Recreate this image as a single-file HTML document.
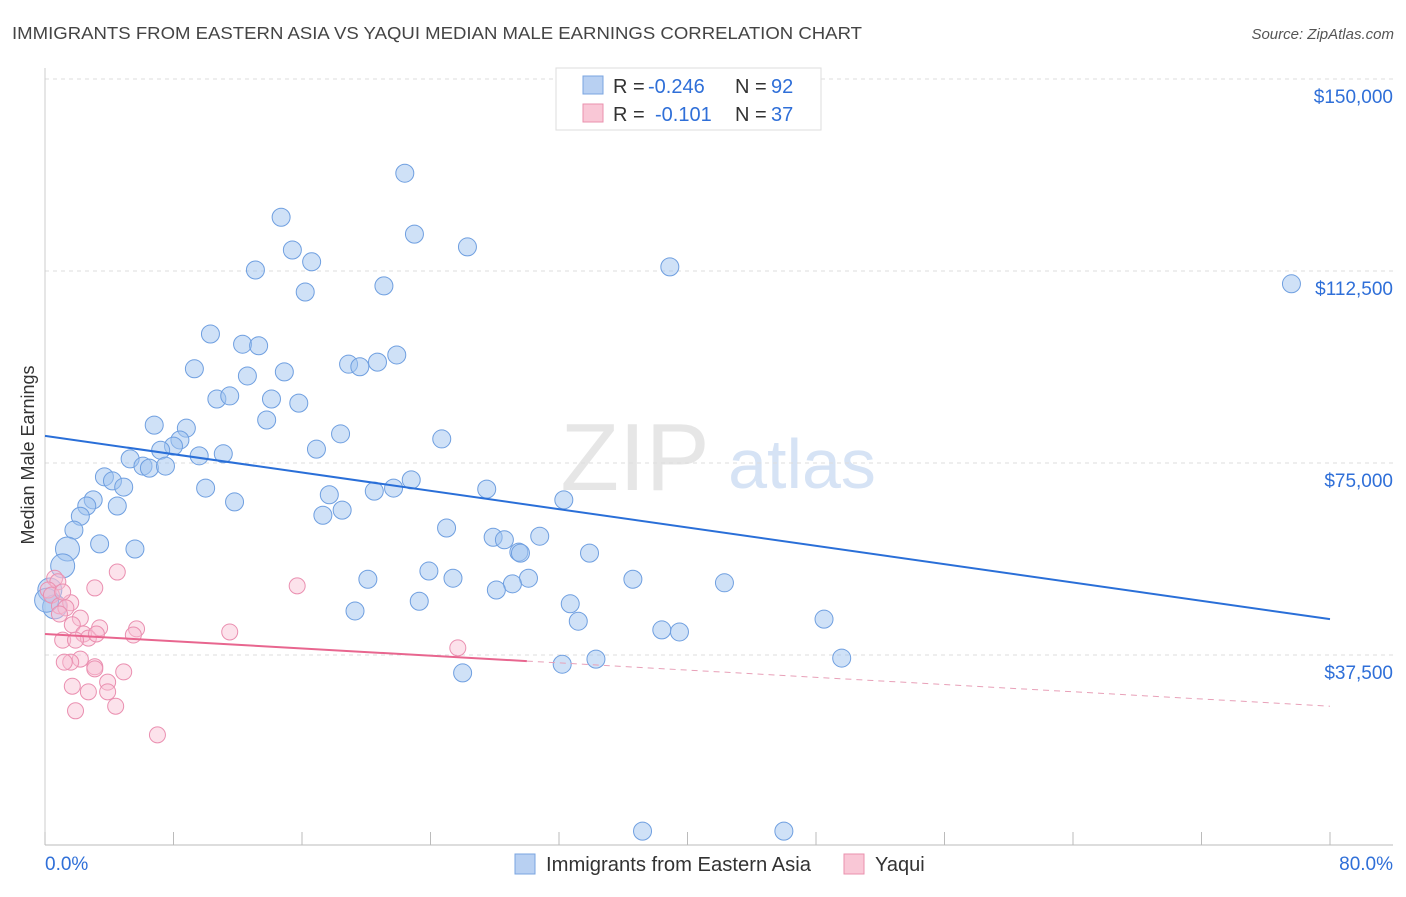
<!DOCTYPE html>
<html><head><meta charset="utf-8"><style>
body{margin:0;background:#fff;font-family:"Liberation Sans",sans-serif;}
svg text{font-family:"Liberation Sans",sans-serif;}
</style></head><body>
<svg id="c" width="1406" height="892" xmlns="http://www.w3.org/2000/svg">
<text x="12" y="39" font-size="17.5" fill="#444" textLength="850" lengthAdjust="spacingAndGlyphs">IMMIGRANTS FROM EASTERN ASIA VS YAQUI MEDIAN MALE EARNINGS CORRELATION CHART</text>
<text x="1394" y="39" font-size="15" fill="#555" font-style="italic" text-anchor="end">Source: ZipAtlas.com</text>
<text x="0" y="0" transform="translate(34,455) rotate(-90)" font-size="18" fill="#333" text-anchor="middle">Median Male Earnings</text>
<g><text x="635" y="490" font-size="96" fill="#e6e6e6" font-family="Liberation Serif,serif" text-anchor="middle">ZIP</text><text x="802" y="488" font-size="70" fill="#d6e3f5" text-anchor="middle">atlas</text></g>
<g id="grid"></g><g id="axes"></g><g id="marks"></g>
<g>
<rect x="556" y="68" width="265" height="62" fill="#fff" stroke="#ddd"/>
<rect x="583" y="76" width="20" height="18" fill="#b8d0f2" stroke="#7aa4e0"/>
<rect x="583" y="104" width="20" height="18" fill="#f9c7d6" stroke="#ea90ae"/>
<g font-size="20"><text x="613" y="93" fill="#333">R =</text><text x="648" y="93" fill="#2f6fd8">-0.246</text><text x="735" y="93" fill="#333">N =</text><text x="771" y="93" fill="#2f6fd8">92</text></g>
<g font-size="20"><text x="613" y="121" fill="#333">R =</text><text x="655" y="121" fill="#2f6fd8">-0.101</text><text x="735" y="121" fill="#333">N =</text><text x="771" y="121" fill="#2f6fd8">37</text></g>
</g>
<g>
<rect x="515" y="854" width="20" height="20" fill="#b8d0f2" stroke="#7aa4e0"/>
<text x="546" y="871" font-size="20" fill="#333" textLength="265" lengthAdjust="spacingAndGlyphs">Immigrants from Eastern Asia</text>
<rect x="844" y="854" width="20" height="20" fill="#f9c7d6" stroke="#ea90ae"/>
<text x="875" y="871" font-size="20" fill="#333">Yaqui</text>
</g>
</svg>
<script>
const yTicks=[37500,75000,112500,150000];
const yTickLabels=["$37,500","$75,000","$112,500","$150,000"];
const xTickVals=[0,8,16,24,32,40,48,56,64,72,80];
const blueX=[22.4,14.7,23.0,15.4,26.3,16.6,13.1,38.9,77.6,21.1,16.2,10.3,12.3,13.3,21.9,18.9,20.7,19.6,9.3,14.9,12.6,10.7,11.5,14.1,15.8,13.8,6.8,8.8,18.4,24.7,8.4,8.0,7.2,16.9,9.6,11.1,5.3,6.1,6.5,7.5,3.7,4.2,4.9,22.8,10.0,21.7,20.5,27.5,17.7,32.3,11.8,3.0,2.6,4.5,18.5,17.3,2.2,25.0,1.8,27.9,28.6,30.8,3.4,5.6,1.4,29.5,29.6,33.9,1.1,23.9,20.1,25.4,30.1,36.6,42.3,29.1,28.1,23.3,19.3,32.7,33.2,48.5,38.4,39.5,34.3,49.6,32.2,26.0,37.2,46.0,0.3,0.6,0.1];
const blueY=[131.6,123.0,119.7,116.6,117.2,114.3,112.7,113.3,110.0,109.6,108.4,100.2,98.2,97.9,96.1,94.3,94.7,93.8,93.4,92.8,92.0,87.5,88.1,87.5,86.7,83.4,82.4,81.8,80.7,79.7,79.5,78.3,77.5,77.7,76.4,76.8,75.8,74.4,74.0,74.4,72.3,71.5,70.3,71.7,70.1,70.1,69.5,69.9,68.8,67.8,67.4,67.8,66.6,66.6,65.8,64.8,64.6,62.3,61.9,60.5,60.0,60.7,59.2,58.2,58.2,57.6,57.4,57.4,54.9,53.9,52.3,52.5,52.5,52.3,51.6,51.4,50.2,48.0,46.1,47.5,44.1,44.5,42.4,42.0,36.7,36.9,35.7,34.0,3.1,3.1,50.2,46.9,48.2];
const pinkX=[0.6,0.8,0.2,0.4,0.9,1.6,1.3,3.1,15.7,4.5,2.2,1.7,3.4,5.7,2.4,5.5,2.7,11.5,3.2,1.1,2.2,1.6,1.2,3.1,3.1,4.9,3.9,1.7,2.7,3.9,1.9,4.4,7.0,25.7,0.9,1.1,1.9];
const pinkY=[52.5,51.8,50.2,49.2,47.1,47.7,46.7,50.6,51.0,53.7,44.7,43.4,42.8,42.6,41.6,41.4,40.8,42.0,41.6,40.4,36.7,36.1,36.1,35.2,34.8,34.2,32.2,31.4,30.3,30.3,26.6,27.5,21.9,38.9,45.5,49.8,40.4];
const blueTrend=[80.3,44.5];
const pinkTrend=[41.6,27.5];
const pinkSolidEnd=30;
const NS="http://www.w3.org/2000/svg";
const X=v=>45+v/80*1285;
const Y=v=>79+(150000-v)/37500*192;
const Yk=v=>Y(v*1000);
function mk(tag,attrs,parent){const e=document.createElementNS(NS,tag);for(const k in attrs)e.setAttribute(k,attrs[k]);parent.appendChild(e);return e;}
const grid=document.getElementById('grid'),axes=document.getElementById('axes'),marks=document.getElementById('marks');
yTicks.forEach((t,i)=>{
 const l=mk('line',{x1:45,x2:1393,y1:Y(t),y2:Y(t),stroke:'#ddd','stroke-dasharray':'4,4'},grid);
 
 
 const tx=mk('text',{x:1393,y:Y(t)+24,'font-size':19,fill:'#2f6fd8','text-anchor':'end'},axes);
 tx.textContent=yTickLabels[i];
 
 
});
const ax=mk('line',{x1:45,x2:1393,y1:845,y2:845,stroke:'#bbb'},axes);


const ay=mk('line',{x1:45,x2:45,y1:68,y2:845,stroke:'#ccc'},axes);


xTickVals.forEach(v=>{
 const t=mk('line',{x1:X(v),x2:X(v),y1:832,y2:845,stroke:'#bbb'},axes);
 
 
});
const xl0=mk('text',{x:45,y:870,'font-size':19,fill:'#2f6fd8'},axes);xl0.textContent='0.0%';


const xl1=mk('text',{x:1393,y:870,'font-size':19,fill:'#2f6fd8','text-anchor':'end'},axes);xl1.textContent='80.0%';


blueX.forEach((x,i)=>{
 const big=x<1.5&&blueY[i]>45&&blueY[i]<60;
 const c=mk('circle',{cx:X(x),cy:Yk(blueY[i]),r:big?12:9,fill:'rgba(160,195,240,0.5)',stroke:'#6f9fe0','stroke-width':1},marks);
 
 
});
pinkX.forEach((x,i)=>{
 const c=mk('circle',{cx:X(x),cy:Yk(pinkY[i]),r:8,fill:'rgba(248,190,210,0.45)',stroke:'#ea8fb0','stroke-width':1},marks);
 
 
});
const bl=mk('line',{x1:X(0),y1:Yk(blueTrend[0]),x2:X(80),y2:Yk(blueTrend[1]),stroke:'#2a6fd8','stroke-width':2},marks);


const pm=pinkTrend[0]+(pinkTrend[1]-pinkTrend[0])*pinkSolidEnd/80;
const ps=mk('line',{x1:X(0),y1:Yk(pinkTrend[0]),x2:X(pinkSolidEnd),y2:Yk(pm),stroke:'#e8668f','stroke-width':2},marks);


const pd=mk('line',{x1:X(pinkSolidEnd),y1:Yk(pm),x2:X(80),y2:Yk(pinkTrend[1]),stroke:'#e8a0b8','stroke-width':1,'stroke-dasharray':'6,5'},marks);


</script>
</body></html>
